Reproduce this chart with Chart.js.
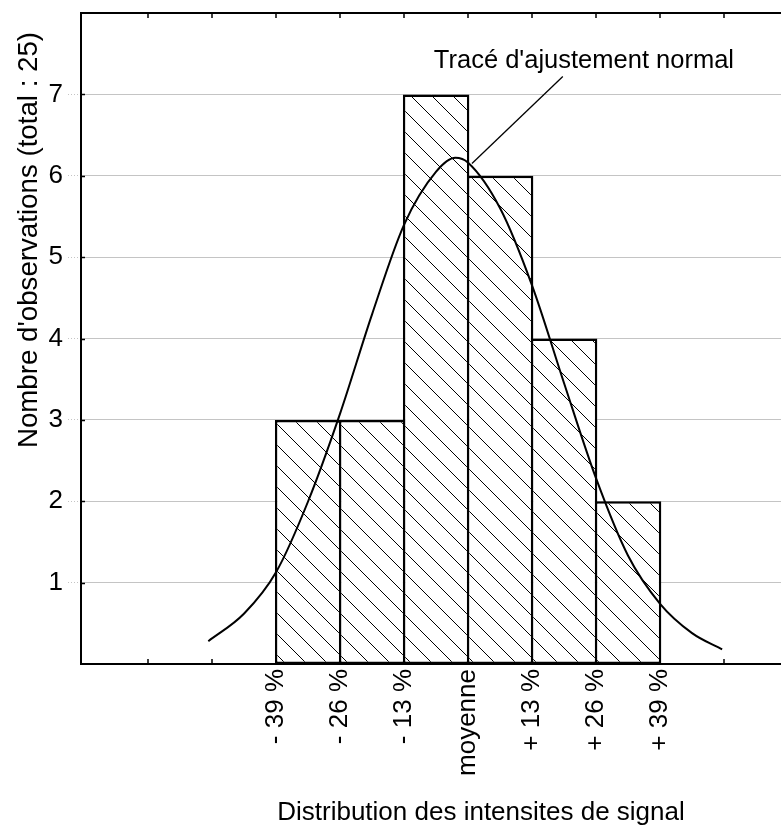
<!DOCTYPE html>
<html><head><meta charset="utf-8">
<script src="https://cdn.jsdelivr.net/npm/chart.js@4.4.1/dist/chart.umd.min.js"></script>
<style>html,body{margin:0;padding:0;background:#fff;}canvas{display:block;}</style>
</head><body>
<canvas id="c" width="781" height="827"></canvas>
<script>
// ---- data (x in units of 13 % around the mean) ----
const binEdges = [-3, -2, -1, 0, 1, 2, 3];
const edgeLabels = ['- 39 %', '- 26 %', '- 13 %', 'moyenne', '+ 13 %', '+ 26 %', '+ 39 %'];
const binCenters = [-2.5, -1.5, -0.5, 0.5, 1.5, 2.5];
const counts = [3, 3, 7, 6, 4, 2];
const curveX = [-4.06, -3.5, -3.0, -2.5, -2.0, -1.5, -1.0, -0.5, -0.2, 0.0, 0.5, 1.0, 1.5, 2.0, 2.5, 3.0, 3.5, 3.97];
const curveY = [0.28, 0.62, 1.13, 2.0, 3.08, 4.3, 5.4, 6.05, 6.22, 6.16, 5.6, 4.65, 3.45, 2.28, 1.33, 0.74, 0.38, 0.18];
const yTickValues = [1, 2, 3, 4, 5, 6, 7];
const xTickValues = [-5, -4, -3, -2, -1, 0, 1, 2, 3, 4];
const xRange = [-6.05, 4.89];
const yRange = [0, 8];
const annotationText = "Tracé d'ajustement normal";
const annotationAt = [1.81, 7.33];
const leaderX = [1.48, 0.06];
const leaderY = [7.22, 6.15];
const xTitle = 'Distribution des intensites de signal';
const yTitle = "Nombre d'observations (total : 25)";

const FONT = "'Liberation Sans', Arial, sans-serif";
const BORDER = 2.5;

function hatchPattern() {
  const s = 21;
  const c = document.createElement('canvas');
  c.width = s; c.height = s;
  const g = c.getContext('2d');
  g.fillStyle = '#fff'; g.fillRect(0, 0, s, s);
  g.strokeStyle = '#000'; g.lineWidth = 1;
  g.beginPath();
  for (const k of [-1, 0, 1]) { g.moveTo(k * s, 0); g.lineTo(k * s + s, s); }
  g.stroke();
  return document.getElementById('c').getContext('2d').createPattern(c, 'repeat');
}

const framePlugin = {
  id: 'frame',
  afterDraw(chart) {
    const {ctx, chartArea: a, scales: {x, y}} = chart;
    ctx.save();
    ctx.strokeStyle = '#000';
    ctx.lineWidth = 2;
    ctx.beginPath(); ctx.moveTo(a.left - 1, a.top); ctx.lineTo(a.right, a.top); ctx.stroke();
    ctx.lineWidth = 1.5;
    ctx.beginPath();
    xTickValues.forEach(v => {
      const px = Math.round(x.getPixelForValue(v));
      ctx.moveTo(px, a.top); ctx.lineTo(px, a.top + 5);
      ctx.moveTo(px, a.bottom); ctx.lineTo(px, a.bottom - 5);
    });
    yTickValues.forEach(v => {
      const py = Math.round(y.getPixelForValue(v)) + 0.5;
      ctx.moveTo(a.left, py); ctx.lineTo(a.left + 4, py);
    });
    ctx.stroke();
    ctx.fillStyle = '#000';
    // annotation
    ctx.font = '25.5px ' + FONT;
    ctx.textAlign = 'center'; ctx.textBaseline = 'alphabetic';
    ctx.fillText(annotationText, x.getPixelForValue(annotationAt[0]), y.getPixelForValue(annotationAt[1]));
    // axis titles
    ctx.font = '26px ' + FONT;
    ctx.fillText(xTitle, 481, 820);
    ctx.font = '27.7px ' + FONT;
    ctx.translate(37, 240);
    ctx.rotate(-Math.PI / 2);
    ctx.fillText(yTitle, 0, 0);
    ctx.restore();
  }
};

new Chart(document.getElementById('c'), {
  type: 'bar',
  data: {
    datasets: [
      {
        type: 'line', order: 0,
        data: curveX.map((v, i) => ({x: v, y: curveY[i]})),
        borderColor: '#000', borderWidth: 2, pointRadius: 0,
        cubicInterpolationMode: 'monotone', fill: false
      },
      {
        type: 'line', order: 0,
        data: leaderX.map((v, i) => ({x: v, y: leaderY[i]})),
        borderColor: '#000', borderWidth: 1.3, pointRadius: 0, tension: 0, fill: false
      },
      {
        type: 'bar', order: 1,
        data: binCenters.map((v, i) => ({x: v, y: counts[i]})),
        backgroundColor: hatchPattern(),
        borderColor: '#000', borderWidth: BORDER, borderSkipped: false, inflateAmount: 0,
        barPercentage: (64 + BORDER) / 64, categoryPercentage: 1
      }
    ]
  },
  options: {
    responsive: false, animation: false,
    layout: {padding: {top: 13, left: 0, right: 0, bottom: 0}},
    plugins: {legend: {display: false}, tooltip: {enabled: false}},
    scales: {
      x: {
        type: 'linear', min: xRange[0], max: xRange[1], offset: false,
        grid: {display: false, drawTicks: false, offset: false},
        border: {display: true, width: 2, color: '#000'},
        afterBuildTicks: s => { s.ticks = xTickValues.map(v => ({value: v})); },
        afterFit: s => { s.height = 163; s.paddingLeft = 0; s.paddingRight = 0; },
        ticks: {
          autoSkip: false, maxRotation: 90, minRotation: 90, padding: 5, color: '#000',
          font: {family: FONT, size: 26},
          callback: v => { const i = binEdges.indexOf(v); return i >= 0 ? edgeLabels[i] : ''; }
        }
      },
      y: {
        type: 'linear', min: yRange[0], max: yRange[1],
        afterBuildTicks: s => { s.ticks = yTickValues.map(v => ({value: v})); },
        afterFit: s => { s.width = 81; s.paddingTop = 0; s.paddingBottom = 0; },
        grid: {color: '#c4c4c4', lineWidth: 1, tickLength: 13, borderDash: [1, 2], tickBorderDash: [1, 2]},
        border: {display: true, width: 2, color: '#000'},
        ticks: {padding: 5, color: '#000', font: {family: FONT, size: 26}}
      }
    }
  },
  plugins: [framePlugin]
});
</script>
</body></html>
